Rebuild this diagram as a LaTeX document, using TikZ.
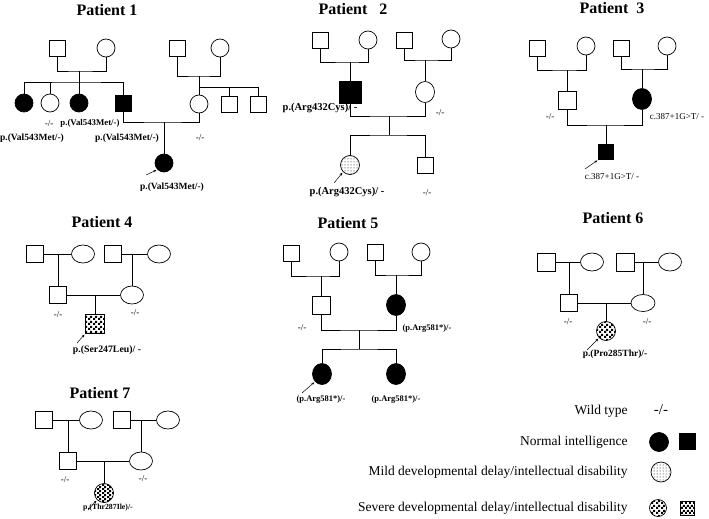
\documentclass[tikz,border=0pt]{standalone}
\usepackage{fontspec}
\setmainfont{Liberation Serif}
\usetikzlibrary{shapes.geometric,patterns,arrows.meta}
\pgfdeclarepatternformonly{checks}{\pgfpointorigin}{\pgfqpoint{4.4pt}{4.4pt}}{\pgfqpoint{4.4pt}{4.4pt}}{%
  \pgfpathrectangle{\pgfpointorigin}{\pgfqpoint{2.2pt}{2.2pt}}%
  \pgfpathrectangle{\pgfqpoint{2.2pt}{2.2pt}}{\pgfqpoint{2.2pt}{2.2pt}}%
  \pgfusepath{fill}}
\tikzset{
  sq/.style={draw, rectangle, minimum size=16pt, inner sep=0pt},
  ci/.style={draw, circle, minimum size=18pt, inner sep=0pt},
  ov/.style={draw, ellipse, minimum width=23pt, minimum height=18pt, inner sep=0pt},
  vov/.style={draw, ellipse, minimum width=19pt, minimum height=21pt, inner sep=0pt},
  aff/.style={fill=black},
  mild/.style={pattern=dots},
  severe/.style={pattern=checks},
  ttl/.style={font=\bfseries\fontsize{16}{18}\selectfont},
  lab/.style={font=\bfseries\fontsize{#1}{#1}\selectfont, inner sep=0pt},
  lab/.default=8.5,
  wt/.style={font=\fontsize{9}{10}\selectfont, inner sep=0pt},
  key/.style={font=\fontsize{13.5}{16}\selectfont, anchor=east, inner sep=0pt},
  arr/.style={-{Stealth[length=3pt,width=2.5pt]}, shorten >=1pt},
}
\begin{document}
\begin{tikzpicture}[x=1pt, y=-1pt, line width=0.7pt]
\useasboundingbox (0,0) rectangle (709,519);

\node[ttl] (t1) at (107,10) {Patient 1};
\node[sq] (p1gf) at (57,48) {};
\node[ci] (p1gm) at (106,48) {};
\coordinate (p1j) at (79,71);
\coordinate (p1s) at (79,82);
\node[ci, aff] (p1c1) at (24,103) {};
\node[ci] (p1c2) at (50,103) {};
\node[ci, aff] (p1c3) at (79,103) {};
\node[sq, aff] (p1c4) at (123,103) {};
\node[sq] (p1hf) at (177,48) {};
\node[ci] (p1hm) at (220,48) {};
\coordinate (p1k) at (199,76);
\coordinate (p1t) at (199,87);
\node[ci] (p1m) at (199,104) {};
\node[sq] (p1u1) at (229,104) {};
\node[sq] (p1u2) at (258,104) {};
\coordinate (p1l) at (164,122);
\node[ci, aff] (p1p) at (164,163) {};
\coordinate (p1a) at (146,175);
\draw (p1gf.south) |- (p1j) -| (p1gm.south);
\draw (p1j) -- (p1c3);
\draw (p1c1.north) |- (p1s) -| (p1c4.north);
\draw (p1c2.north) -- (p1c2.north |- p1s);
\draw (p1hf.south) |- (p1k) -| (p1hm.south);
\draw (p1k) -- (p1m);
\draw (p1m.north |- p1t) -| (p1u2.north);
\draw (p1u1.north) -- (p1u1.north |- p1t);
\draw (p1c4.south) |- (p1l) -| (p1m.south);
\draw (p1l) -- (p1p);
\draw[arr, line width=0.5pt] (p1a) -- (p1p.south west);
\node[wt] (l1a) at (49,124) {-/-};
\node[lab=8.8] (l1b) at (90,123) {p.(Val543Met/-)};
\node[lab=9.5] (l1c) at (32,138) {p.(Val543Met/-)};
\node[lab=9.5] (l1d) at (127,138) {p.(Val543Met/-)};
\node[wt] (l1e) at (200,138) {-/-};
\node[lab=9.5] (l1f) at (172,187) {p.(Val543Met/-)};

\node[ttl] (t2) at (353,9) {Patient\ \ \ 2};
\node[sq] (p2gf) at (320,40) {};
\node[ci] (p2gm) at (368,40) {};
\coordinate (p2j) at (350,62);
\node[sq, aff, minimum size=22pt] (p2m) at (350,92) {};
\node[sq] (p2hf) at (404,40) {};
\node[ci] (p2hm) at (451,39) {};
\coordinate (p2k) at (425,60);
\node[vov] (p2w) at (425,92) {};
\coordinate (p2l) at (389,116);
\coordinate (p2s) at (389,135);
\node[ci, mild, minimum size=19pt] (p2p) at (350,165) {};
\node[sq] (p2b) at (425,165) {};
\coordinate (p2a) at (334,183);
\draw (p2gf.south) |- (p2j) -| (p2gm.south);
\draw (p2j) -- (p2m);
\draw (p2hf.south) |- (p2k) -| (p2hm.south);
\draw (p2k) -- (p2w);
\draw (p2m.south) |- (p2l) -| (p2w.south);
\draw (p2l) -- (p2s);
\draw (p2p.north) |- (p2s) -| (p2b.north);
\draw[arr, line width=0.5pt] (p2a) -- (p2p.south west);
\node[lab=10.5] (l2a) at (320,108) {p.(Arg432Cys)/ -};
\node[wt] (l2b) at (440,113) {-/-};
\node[lab=10.5] (l2c) at (347,192) {p.(Arg432Cys)/ -};
\node[wt] (l2d) at (427,193) {-/-};

\node[ttl] (t3) at (612,8) {Patient\ \ 3};
\node[sq] (p3gf) at (537,48) {};
\node[ci] (p3gm) at (586,46) {};
\coordinate (p3j) at (567,70);
\node[sq, minimum size=18pt] (p3f) at (567,100) {};
\node[sq] (p3hf) at (621,48) {};
\node[ci] (p3hm) at (667,46) {};
\coordinate (p3k) at (642,69);
\node[vov, aff] (p3m) at (642,99) {};
\coordinate (p3l) at (606,125);
\node[sq, aff, minimum size=15pt] (p3p) at (606,152) {};
\coordinate (p3a) at (585,169);
\draw (p3gf.south) |- (p3j) -| (p3gm.south);
\draw (p3j) -- (p3f);
\draw (p3hf.south) |- (p3k) -| (p3hm.south);
\draw (p3k) -- (p3m);
\draw (p3f.south) |- (p3l) -| (p3m.south);
\draw (p3l) -- (p3p);
\draw[arr, line width=0.5pt] (p3a) -- (p3p.south west);
\node[wt] (l3a) at (550,117) {-/-};
\node[wt] (l3b) at (677,117) {c.387+1G>T/ -};
\node[wt] (l3c) at (612,177) {c.387+1G>T/ -};

\node[ttl] (t4) at (102,222) {Patient 4};
\node[sq, minimum size=17pt] (p4gf) at (35,254) {};
\node[ov] (p4gm) at (83,254) {};
\coordinate (p4j) at (58,254);
\node[sq, minimum size=17pt] (p4f) at (58,295) {};
\node[sq, minimum size=17pt] (p4hf) at (113,254) {};
\node[ov] (p4hm) at (159,254) {};
\coordinate (p4k) at (132,254);
\node[ov] (p4m) at (132,295) {};
\coordinate (p4l) at (95,295);
\node[sq, severe, minimum size=19pt] (p4p) at (95,324) {};
\coordinate (p4a) at (77,343);
\draw (p4gf) -- (p4gm);
\draw (p4j) -- (p4f);
\draw (p4hf) -- (p4hm);
\draw (p4k) -- (p4m);
\draw (p4f) -- (p4m);
\draw (p4l) -- (p4p);
\draw[arr, line width=0.5pt] (p4a) -- (p4p.south west);
\node[wt] (l4a) at (58,315) {-/-};
\node[wt] (l4b) at (135,313) {-/-};
\node[lab=9.8] (l4c) at (107,350) {p.(Ser247Leu)/ -};

\node[ttl] (t5) at (348,223) {Patient 5};
\node[sq] (p5gf) at (291,253) {};
\node[ci] (p5gm) at (339,252) {};
\coordinate (p5j) at (321,276);
\node[sq, minimum size=18pt] (p5f) at (321,305) {};
\node[sq] (p5hf) at (375,252) {};
\node[ci] (p5hm) at (421,252) {};
\coordinate (p5k) at (396,275);
\node[vov, aff] (p5m) at (396,305) {};
\coordinate (p5l) at (359,330);
\coordinate (p5s) at (359,349);
\node[vov, aff] (p5p) at (322,374) {};
\node[vov, aff] (p5c) at (396,374) {};
\coordinate (p5a) at (302,393);
\draw (p5gf.south) |- (p5j) -| (p5gm.south);
\draw (p5j) -- (p5f);
\draw (p5hf.south) |- (p5k) -| (p5hm.south);
\draw (p5k) -- (p5m);
\draw (p5f.south) |- (p5l) -| (p5m.south);
\draw (p5l) -- (p5s);
\draw (p5p.north) |- (p5s) -| (p5c.north);
\draw[arr, line width=0.5pt] (p5a) -- (p5p.south west);
\node[wt] (l5a) at (302,328) {-/-};
\node[lab] (l5b) at (427,328) {(p.Arg581*)/-};
\node[lab] (l5c) at (321,399) {(p.Arg581*)/-};
\node[lab] (l5d) at (396,399) {(p.Arg581*)/-};

\node[ttl] (t6) at (613,218) {Patient 6};
\node[sq, minimum size=18pt] (p6gf) at (546,262) {};
\node[ov] (p6gm) at (592,262) {};
\coordinate (p6j) at (569,262);
\node[sq, minimum size=17pt] (p6f) at (569,303) {};
\node[sq, minimum size=18pt] (p6hf) at (625,262) {};
\node[ov] (p6hm) at (670,262) {};
\coordinate (p6k) at (643,262);
\node[ov, minimum width=24pt, minimum height=17pt] (p6m) at (643,303) {};
\coordinate (p6l) at (606,303);
\node[ci, severe, minimum size=19pt] (p6p) at (606,331) {};
\coordinate (p6a) at (587,350);
\draw (p6gf) -- (p6gm);
\draw (p6j) -- (p6f);
\draw (p6hf) -- (p6hm);
\draw (p6k) -- (p6m);
\draw (p6f) -- (p6m);
\draw (p6l) -- (p6p);
\draw[arr, line width=0.5pt] (p6a) -- (p6p.south west);
\node[wt] (l6a) at (568,322) {-/-};
\node[wt] (l6b) at (647,322) {-/-};
\node[lab=9.5] (l6c) at (615,354) {p.(Pro285Thr)/-};

\node[ttl] (t7) at (100,393) {Patient 7};
\node[sq, minimum size=17pt] (p7gf) at (44,420) {};
\node[ov] (p7gm) at (91,420) {};
\coordinate (p7j) at (68,420);
\node[sq, minimum size=17pt] (p7f) at (68,461) {};
\node[sq, minimum size=17pt] (p7hf) at (122,420) {};
\node[ov] (p7hm) at (168,420) {};
\coordinate (p7k) at (141,420);
\node[ov] (p7m) at (141,461) {};
\coordinate (p7l) at (104,461);
\node[ci, severe, minimum size=19pt] (p7p) at (104,493) {};
\coordinate (p7a) at (88,510);
\draw (p7gf) -- (p7gm);
\draw (p7j) -- (p7f);
\draw (p7hf) -- (p7hm);
\draw (p7k) -- (p7m);
\draw (p7f) -- (p7m);
\draw (p7l) -- (p7p);
\draw[arr, line width=0.5pt] (p7a) -- (p7p.south west);
\node[wt] (l7a) at (65,480) {-/-};
\node[wt] (l7b) at (143,479) {-/-};
\node[lab=7.8] (l7c) at (108,508) {p.(Thr287Ile)/-};

\node[key] (k1) at (628,411) {Wild type};
\node[key] (k2) at (628,442) {Normal intelligence};
\node[key] (k3) at (628,472) {Mild developmental delay/intellectual disability};
\node[key] (k4) at (628,508) {Severe developmental delay/intellectual disability};
\node[font=\fontsize{15}{17}\selectfont] (g1) at (661,410) {-/-};
\node[ci, aff, minimum size=19pt] (g2) at (659,442) {};
\node[sq, aff] (g3) at (687,441) {};
\node[ci, mild, minimum size=20pt] (g4) at (661,472) {};
\node[ci, severe, minimum size=17pt] (g5) at (658,508) {};
\node[sq, severe, minimum size=14pt] (g6) at (687,508) {};
\end{tikzpicture}
\end{document}
